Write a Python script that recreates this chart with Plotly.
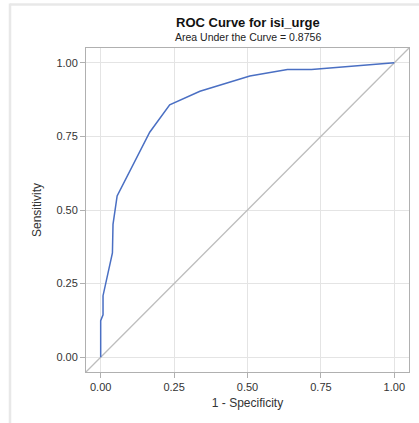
import plotly.graph_objects as go

# ROC curve points (1 - specificity, sensitivity)
fpr = [0.0, 0.0, 0.008, 0.008, 0.040, 0.042, 0.056, 0.167, 0.235, 0.338, 0.508, 0.636, 0.718, 1.0]
tpr = [0.0, 0.124, 0.144, 0.209, 0.354, 0.451, 0.548, 0.764, 0.857, 0.903, 0.955, 0.977, 0.977, 1.0]

# chance diagonal
diag_x = [-0.05, 1.05]
diag_y = [-0.05, 1.05]

tick_vals = [0, 0.25, 0.5, 0.75, 1.0]
tick_text = ["0.00", "0.25", "0.50", "0.75", "1.00"]

title_text = "ROC Curve for isi_urge"
subtitle_text = "Area Under the Curve = 0.8756"

FONT = "Liberation Sans, Arial, sans-serif"

fig = go.Figure()
fig.add_trace(go.Scatter(x=diag_x, y=diag_y, mode="lines",
                         line=dict(color="#bdbdbd", width=1.3), hoverinfo="skip",
                         showlegend=False))
fig.add_trace(go.Scatter(x=fpr, y=tpr, mode="lines",
                         line=dict(color="#4a6fc3", width=1.5),
                         showlegend=False))

axis_common = dict(
    range=[-0.05, 1.05], tickvals=tick_vals, ticktext=tick_text,
    showgrid=True, gridcolor="#e4e4e4", gridwidth=1,
    zeroline=False, showline=True, mirror=True, linecolor="#b0b0b0", linewidth=1,
    ticks="outside", ticklen=5, tickcolor="#b0b0b0",
    tickfont=dict(family=FONT, size=11, color="#333333"),
    title_font=dict(family=FONT, size=12, color="#333333"),
)

fig.update_xaxes(**axis_common, title_text="1 - Specificity", title_standoff=6)
fig.update_yaxes(**axis_common, title_text="Sensitivity", title_standoff=12)

fig.update_layout(
    width=419, height=423,
    margin=dict(l=86, r=10, t=48, b=51),
    paper_bgcolor="white", plot_bgcolor="white",
    font=dict(family=FONT, color="#333333"),
    annotations=[
        dict(text="<b>" + title_text + "</b>", xref="paper", yref="paper",
             x=0.5, y=(372 - 22) / 324, xanchor="center", yanchor="middle",
             showarrow=False, font=dict(family=FONT, size=13, color="#111111")),
        dict(text=subtitle_text, xref="paper", yref="paper",
             x=0.5, y=(372 - 37) / 324, xanchor="center", yanchor="middle",
             showarrow=False, font=dict(family=FONT, size=10.5, color="#222222")),
    ],
    shapes=[
        dict(type="line", xref="paper", yref="paper",
             x0=(10 - 86) / 323, x1=(419 - 86) / 323 + 0.05,
             y0=(372 - 4.5) / 324, y1=(372 - 4.5) / 324,
             line=dict(color="#e8e8e8", width=2.5)),
        dict(type="line", xref="paper", yref="paper",
             x0=(10 - 86) / 323, x1=(10 - 86) / 323,
             y0=(372 - 3.5) / 324, y1=(372 - 430) / 324,
             line=dict(color="#e8e8e8", width=2.5)),
    ],
)

fig.write_html("out.html", config={"displayModeBar": False},
               post_script="document.body.style.margin='0';document.body.style.overflow='hidden';")
